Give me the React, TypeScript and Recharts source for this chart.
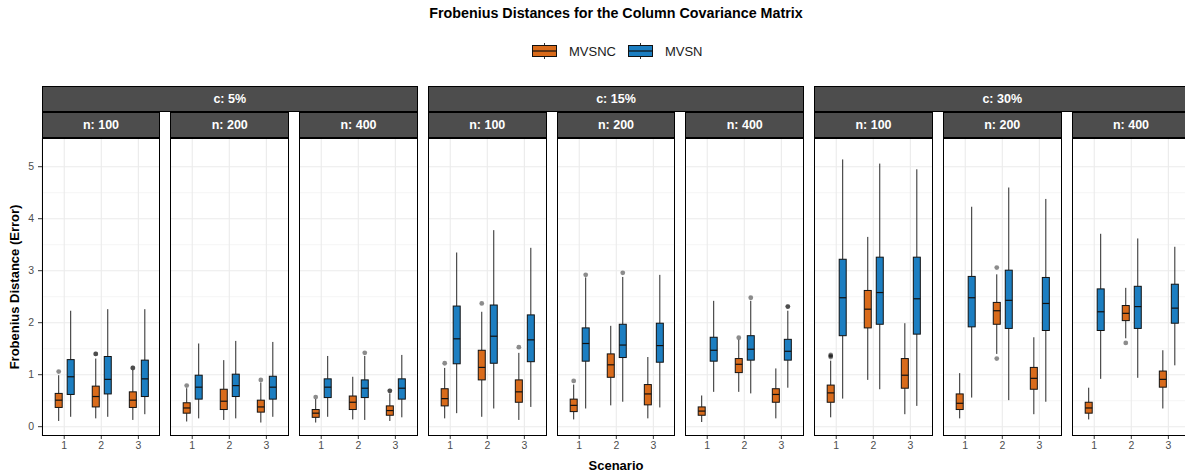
import { Bar, BarChart, CartesianGrid, XAxis, YAxis } from "recharts";

// five-number summary per box: lower whisker, Q1, median, Q3, upper whisker
type Box = [number, number, number, number, number];

const scenarios = ["1", "2", "3"];
const cLevels = ["c: 5%", "c: 15%", "c: 30%"];
const nLevels = ["n: 100", "n: 200", "n: 400"];

// c: 5%
const mvsncC5N100: Box[] = [[0.11, 0.37, 0.51, 0.64, 0.99], [0.16, 0.38, 0.58, 0.78, 1.31], [0.13, 0.37, 0.51, 0.67, 1.09]];
const mvsnC5N100: Box[] = [[0.19, 0.62, 0.96, 1.29, 2.23], [0.19, 0.63, 0.91, 1.35, 2.26], [0.24, 0.58, 0.92, 1.28, 2.26]];
const mvsncC5N200: Box[] = [[0.1, 0.26, 0.36, 0.46, 0.74], [0.13, 0.33, 0.49, 0.72, 1.28], [0.08, 0.28, 0.38, 0.51, 0.85]];
const mvsnC5N200: Box[] = [[0.16, 0.53, 0.76, 0.99, 1.6], [0.16, 0.58, 0.79, 1.01, 1.65], [0.19, 0.53, 0.76, 0.97, 1.63]];
const mvsncC5N400: Box[] = [[0.08, 0.18, 0.26, 0.33, 0.53], [0.14, 0.33, 0.47, 0.59, 0.96], [0.11, 0.22, 0.31, 0.4, 0.64]];
const mvsnC5N400: Box[] = [[0.19, 0.56, 0.76, 0.92, 1.36], [0.13, 0.56, 0.74, 0.9, 1.36], [0.18, 0.53, 0.74, 0.92, 1.38]];

// c: 15%
const mvsncC15N100: Box[] = [[0.16, 0.4, 0.54, 0.73, 1.13], [0.19, 0.9, 1.14, 1.47, 2.21], [0.13, 0.47, 0.67, 0.9, 1.42]];
const mvsnC15N100: Box[] = [[0.26, 1.21, 1.69, 2.32, 3.35], [0.35, 1.22, 1.74, 2.34, 3.78], [0.38, 1.25, 1.67, 2.15, 3.44]];
const mvsncC15N200: Box[] = [[0.14, 0.29, 0.41, 0.53, 0.81], [0.41, 0.95, 1.19, 1.4, 1.94], [0.16, 0.42, 0.63, 0.81, 1.34]];
const mvsnC15N200: Box[] = [[0.35, 1.26, 1.6, 1.9, 2.87], [0.48, 1.33, 1.57, 1.97, 2.88], [0.37, 1.24, 1.56, 1.99, 2.92]];
const mvsncC15N400: Box[] = [[0.09, 0.22, 0.3, 0.38, 0.6], [0.67, 1.04, 1.2, 1.31, 1.67], [0.16, 0.47, 0.62, 0.73, 1.12]];
const mvsnC15N400: Box[] = [[0.67, 1.26, 1.47, 1.72, 2.42], [0.64, 1.28, 1.49, 1.75, 2.42], [0.75, 1.28, 1.45, 1.68, 2.23]];

// c: 30%
const mvsncC30N100: Box[] = [[0.18, 0.47, 0.65, 0.8, 1.27], [0.9, 1.9, 2.26, 2.62, 3.65], [0.24, 0.74, 0.99, 1.31, 1.99]];
const mvsnC30N100: Box[] = [[0.54, 1.75, 2.48, 3.22, 5.14], [0.72, 1.97, 2.58, 3.26, 5.06], [0.4, 1.78, 2.46, 3.26, 4.95]];
const mvsncC30N200: Box[] = [[0.16, 0.33, 0.45, 0.63, 1.03], [1.4, 1.97, 2.23, 2.39, 2.93], [0.24, 0.72, 0.93, 1.14, 1.72]];
const mvsnC30N200: Box[] = [[0.56, 1.92, 2.48, 2.89, 4.23], [0.51, 1.89, 2.43, 3.01, 4.6], [0.48, 1.85, 2.37, 2.87, 4.38]];
const mvsncC30N400: Box[] = [[0.14, 0.26, 0.36, 0.47, 0.75], [1.7, 2.04, 2.18, 2.33, 2.67], [0.35, 0.76, 0.91, 1.07, 1.47]];
const mvsnC30N400: Box[] = [[0.92, 1.85, 2.21, 2.65, 3.71], [0.94, 1.89, 2.31, 2.7, 3.62], [1.18, 1.99, 2.28, 2.74, 3.46]];

// outliers per scenario (repeated values overlap and print darker)
const mvsncOutliers: number[][][] = [
  [[1.06], [1.4, 1.4], [1.13, 1.13]],
  [[0.79], [], [0.9]],
  [[0.57], [], [0.69, 0.69]],
  [[1.22], [2.37], [1.53]],
  [[0.88], [], []],
  [[], [1.71], []],
  [[1.38, 1.36, 1.34], [], []],
  [[], [3.06, 1.31], []],
  [[], [1.61], []],
];
const mvsnOutliers: number[][][] = [
  [[], [], []],
  [[], [], []],
  [[], [1.42], []],
  [[], [], []],
  [[2.92], [2.96], []],
  [[], [2.48], [2.31, 2.31]],
  [[], [], []],
  [[], [], []],
  [[], [], []],
];

const mvsncPanels = [mvsncC5N100, mvsncC5N200, mvsncC5N400, mvsncC15N100, mvsncC15N200, mvsncC15N400, mvsncC30N100, mvsncC30N200, mvsncC30N400];
const mvsnPanels = [mvsnC5N100, mvsnC5N200, mvsnC5N400, mvsnC15N100, mvsnC15N200, mvsnC15N400, mvsnC30N100, mvsnC30N200, mvsnC30N400];

const ORANGE = "#D96B1B";
const BLUE = "#1C7EC1";
const FONT = "'Liberation Sans', Arial, Helvetica, sans-serif";

const MAJOR = [0, 1, 2, 3, 4, 5];
const MINOR = [0.5, 1.5, 2.5, 3.5, 4.5];
const Y_DOMAIN: [number, number] = [-0.179, 5.552];

// facet geometry
const PX0 = 41.7;
const STEP = 128.75;
const PW = 118.6;
const PT = 138;
const PH = 298;
const Y_W = 42;

type Stats = { box: Box; out: number[]; lo: number; hi: number };

function stats(box: Box, out: number[]): Stats {
  return { box, out, lo: Math.min(box[0], ...out), hi: Math.max(box[4], ...out) };
}

function buildRows(p: number) {
  return scenarios.map((s, i) => ({
    scenario: s,
    nc: stats(mvsncPanels[p][i], mvsncOutliers[p][i]),
    n: stats(mvsnPanels[p][i], mvsnOutliers[p][i]),
  }));
}

// range bar spans lo..hi; everything else is placed inside that span
function boxShape(key: "nc" | "n", color: string) {
  return (props: any) => {
    const { x, y, width, height, payload } = props;
    const s: Stats = payload[key];
    const top = Math.min(y, y + height);
    const h = Math.abs(height);
    const py = (v: number) => (s.hi === s.lo ? top : top + (h * (s.hi - v)) / (s.hi - s.lo));
    const cx = x + width / 2;
    const bw = 7;
    const [w0, q1, med, q3, w1] = s.box;
    return (
      <g>
        <line x1={cx} x2={cx} y1={py(w1)} y2={py(q3)} stroke="#262626" strokeWidth={1} />
        <line x1={cx} x2={cx} y1={py(q1)} y2={py(w0)} stroke="#262626" strokeWidth={1} />
        <rect x={cx - bw / 2} y={py(q3)} width={bw} height={py(q1) - py(q3)} fill={color} stroke="#111" strokeWidth={1} />
        <line x1={cx - bw / 2} x2={cx + bw / 2} y1={py(med)} y2={py(med)} stroke="#111" strokeWidth={1.2} />
        {s.out.map((v, i) => (
          <circle key={i} cx={cx} cy={py(v)} r={2.4} fill="#000" fillOpacity={0.45} />
        ))}
      </g>
    );
  };
}

const ncShape = boxShape("nc", ORANGE);
const nShape = boxShape("n", BLUE);

function Panel({ index }: { index: number }) {
  const showY = index === 0;
  const left = PX0 + index * STEP - (showY ? Y_W : 0);
  const width = PW + (showY ? Y_W : 0);
  const rows = buildRows(index);
  return (
    <>
      <div style={{ position: "absolute", left, top: PT }}>
        <BarChart
          width={width}
          height={PH + 24}
          data={rows}
          margin={{ top: 0, right: 0, bottom: 0, left: 0 }}
          barSize={12}
          barGap={0}
        >
          <CartesianGrid horizontalValues={MINOR} vertical={false} stroke="#f0f0f0" strokeWidth={0.7} />
          <CartesianGrid horizontalValues={MAJOR} stroke="#ebebeb" strokeWidth={1.1} />
          <XAxis
            dataKey="scenario"
            height={24}
            padding={{ left: 3.7, right: 3.7 }}
            axisLine={false}
            tickSize={3}
            tickMargin={3}
            interval={0}
            tick={{ fontSize: 10.5, fill: "#4d4d4d", fontFamily: FONT }}
            tickLine={{ stroke: "#333" }}
          />
          <YAxis
            type="number"
            hide={!showY}
            width={Y_W}
            domain={Y_DOMAIN}
            ticks={MAJOR}
            allowDataOverflow
            axisLine={false}
            tickSize={4}
            tickMargin={4}
            tick={{ fontSize: 10.5, fill: "#4d4d4d", fontFamily: FONT }}
            tickLine={{ stroke: "#333" }}
          />
          <Bar dataKey={(d: any) => [d.nc.lo, d.nc.hi]} shape={ncShape} isAnimationActive={false} />
          <Bar dataKey={(d: any) => [d.n.lo, d.n.hi]} shape={nShape} isAnimationActive={false} />
        </BarChart>
      </div>
      <div
        style={{
          position: "absolute",
          left: PX0 + index * STEP,
          top: PT,
          width: PW,
          height: PH,
          border: "1px solid #000",
          boxSizing: "border-box",
          pointerEvents: "none",
        }}
      />
    </>
  );
}

const stripStyle = {
  position: "absolute" as const,
  background: "#4d4d4d",
  border: "1px solid #000",
  boxSizing: "border-box" as const,
  color: "#fff",
  fontWeight: 700,
  fontSize: 12.5,
  display: "flex",
  alignItems: "center",
  justifyContent: "center",
  fontFamily: FONT,
};

function LegendKey({ color }: { color: string }) {
  return (
    <svg width={25} height={16} style={{ display: "block" }}>
      <line x1={12.5} x2={12.5} y1={0} y2={16} stroke="#333" strokeWidth={1} />
      <rect x={0.5} y={2.5} width={24} height={11} fill={color} stroke="#111" strokeWidth={1} />
      <line x1={0.5} x2={24.5} y1={8} y2={8} stroke="#111" strokeWidth={1.2} />
    </svg>
  );
}

export default function App() {
  return (
    <div
      style={{
        position: "fixed",
        left: 0,
        top: 0,
        width: 1185,
        height: 475,
        overflow: "hidden",
        background: "#fff",
        fontFamily: FONT,
      }}
    >
      <div
        style={{
          position: "absolute",
          left: 0,
          width: 1232,
          top: 5,
          textAlign: "center",
          fontWeight: 700,
          fontSize: 14.3,
          color: "#000",
        }}
      >
        Frobenius Distances for the Column Covariance Matrix
      </div>

      <div style={{ position: "absolute", left: 532, top: 43, display: "flex", alignItems: "center", fontSize: 13, color: "#1a1a1a" }}>
        <LegendKey color={ORANGE} />
        <span style={{ marginLeft: 12, marginRight: 12 }}>MVSNC</span>
        <LegendKey color={BLUE} />
        <span style={{ marginLeft: 12 }}>MVSN</span>
      </div>

      {cLevels.map((c, g) => (
        <div key={c} style={{ ...stripStyle, left: PX0 + 3 * g * STEP, width: 2 * STEP + PW, top: 86, height: 25.5 }}>
          {c}
        </div>
      ))}
      {mvsncPanels.map((_, i) => (
        <div key={i} style={{ ...stripStyle, left: PX0 + i * STEP, width: PW, top: 112.3, height: 25.7 }}>
          {nLevels[i % 3]}
        </div>
      ))}

      {mvsncPanels.map((_, i) => (
        <Panel key={i} index={i} />
      ))}

      <div
        style={{
          position: "absolute",
          left: 14,
          top: PT + PH / 2,
          transform: "translate(-50%, -50%) rotate(-90deg)",
          whiteSpace: "nowrap",
          fontWeight: 700,
          fontSize: 13,
          color: "#000",
        }}
      >
        Frobenius Distance (Error)
      </div>
      <div
        style={{
          position: "absolute",
          left: PX0,
          width: 8 * STEP + PW,
          top: 458,
          textAlign: "center",
          fontWeight: 700,
          fontSize: 13,
          color: "#000",
        }}
      >
        Scenario
      </div>
    </div>
  );
}
